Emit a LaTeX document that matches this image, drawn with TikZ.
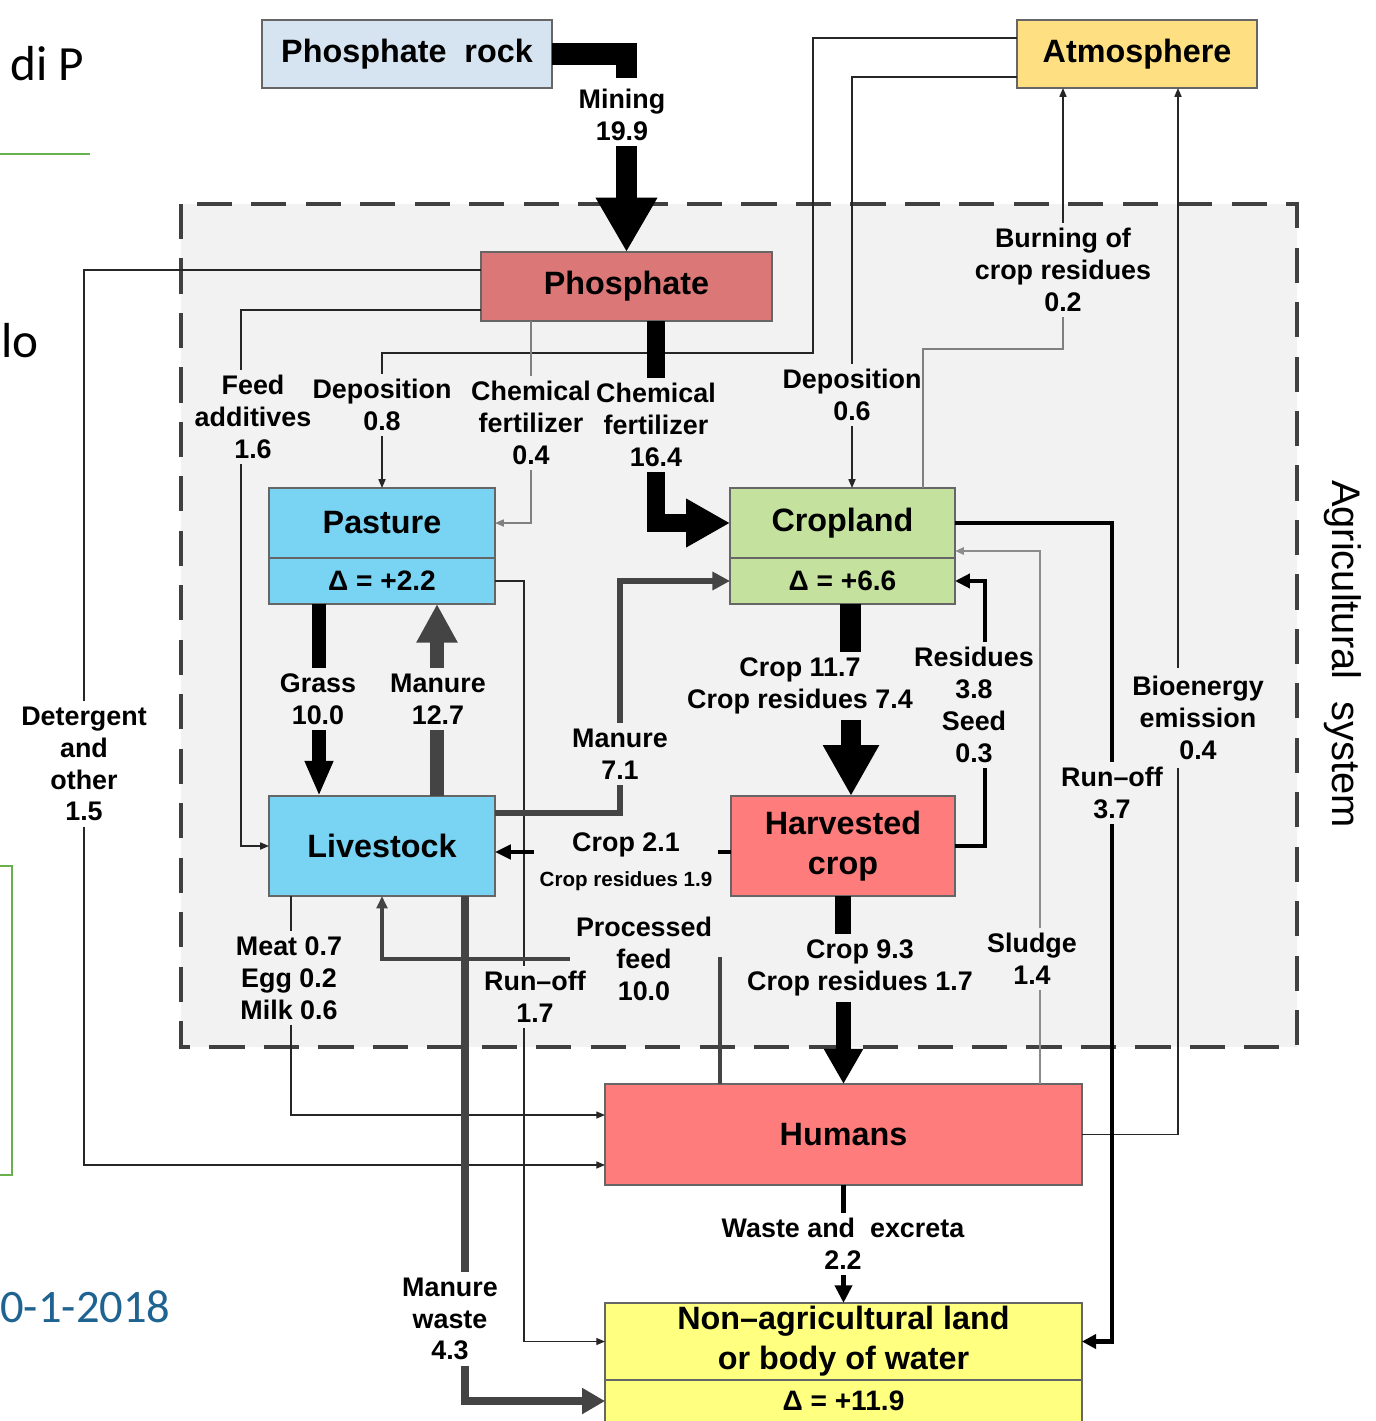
\documentclass[tikz,border=0pt]{standalone}
\usepackage{fontspec}
\setmainfont{Liberation Sans}
\newfontfamily\slidefont{Carlito}
\usetikzlibrary{arrows.meta,positioning}

\definecolor{rockblue}{RGB}{214,227,240}
\definecolor{atmoyellow}{RGB}{254,224,130}
\definecolor{phosred}{RGB}{219,119,119}
\definecolor{landblue}{RGB}{121,211,243}
\definecolor{cropgreen}{RGB}{196,225,157}
\definecolor{foodred}{RGB}{255,124,124}
\definecolor{sinkyellow}{RGB}{255,255,128}
\definecolor{agrigray}{RGB}{242,242,242}
\definecolor{flowgray}{RGB}{68,68,68}
\definecolor{datablue}{RGB}{31,99,145}
\definecolor{slidegreen}{RGB}{106,176,76}

\newcommand{\boxfont}{\fontsize{18.4}{22.7}\selectfont\bfseries}
\newcommand{\deltafont}{\fontsize{16}{19}\selectfont\bfseries}
\newcommand{\lblfont}{\fontsize{15.3}{18.1}\selectfont\bfseries}
\newcommand{\tinyfont}{\fontsize{11.7}{14}\selectfont\bfseries}

\tikzset{
  headed/.style 2 args={-{Triangle[width=#1,length=#2]}},
  bigbar/.style={line width=#1, black},
  graybar/.style={line width=#1, flowgray},
}

\begin{document}
\begin{tikzpicture}[x=0.02cm, y=-0.02cm]
  \tikzstyle{pool}=[draw=black!60, line width=0.8pt, font=\boxfont, align=center, inner sep=2pt, outer sep=0pt]
  \tikzstyle{lbl}=[font=\lblfont, align=center, inner sep=3pt]
  \tikzstyle{flowline}=[line width=0.8pt, black!85]
  \tikzstyle{grayline}=[line width=0.8pt, black!50]
  \tikzstyle{sludgeline}=[line width=1.4pt, black!45]
  \tikzstyle{feedline}=[line width=1.8pt, flowgray]
  \tikzstyle{runbar}=[line width=2.5pt, black]
  \tikzstyle{tipthin}=[-{Triangle[width=4pt,length=5pt]}]
  \tikzstyle{slidetxt}=[font=\slidefont\fontsize{28}{32}\selectfont, inner sep=0pt]

  \useasboundingbox (0,0) rectangle (1376,1421);
  \clip (0,0) rectangle (1376,1421);

  % slide remains
  \node[slidetxt, anchor=base west] (slideDiP) at (10,80) {di P};
  \node[slidetxt, anchor=base west] (slideLo) at (1,357) {lo};
  \node[slidetxt, text=datablue, anchor=base west, font=\slidefont\fontsize{26.5}{30}\selectfont] (slideDate) at (0,1322) {0-1-2018};
  \draw[slidegreen, line width=1.2pt] (0,154) -- (90,154);
  \draw[slidegreen, line width=1pt] (-10,866) rectangle (12,1175);

  % agricultural system
  \draw[fill=agrigray, draw=black!75, line width=2.8pt, dash pattern=on 20pt off 11pt] (181,204) rectangle (1297,1047);
  \node[rotate=-90, font=\fontsize{22.7}{27}\selectfont] (agri) at (1343,654) {Agricultural\ \ system};

  % pools
  \node[pool, fill=rockblue, minimum width=5.8cm, minimum height=1.36cm] (rock) at (407,54) {Phosphate\ \ rock};
  \node[pool, fill=atmoyellow, minimum width=4.8cm, minimum height=1.36cm] (atmos) at (1137,54) {Atmosphere};
  \node[pool, fill=phosred, minimum width=5.82cm, minimum height=1.38cm] (phos) at (626.5,286.5) {Phosphate};
  \node[pool, fill=landblue, minimum width=4.52cm, minimum height=1.4cm] (pasture) at (382,523) {Pasture};
  \node[pool, fill=landblue, minimum width=4.52cm, minimum height=0.92cm, font=\deltafont, below=0pt of pasture] (pastureD) {Δ = +2.2};
  \node[pool, fill=cropgreen, minimum width=4.5cm, minimum height=1.4cm] (cropland) at (842.5,523) {Cropland};
  \node[pool, fill=cropgreen, minimum width=4.5cm, minimum height=0.92cm, font=\deltafont, below=0pt of cropland] (cropD) {Δ = +6.6};
  \node[pool, fill=landblue, minimum width=4.52cm, minimum height=2cm] (livestock) at (382,846) {Livestock};
  \node[pool, fill=foodred, minimum width=4.48cm, minimum height=2cm] (harvest) at (843,846) {Harvested\\crop};
  \node[pool, fill=foodred, minimum width=9.54cm, minimum height=2.02cm] (humans) at (843.5,1134.5) {Humans};
  \node[pool, fill=sinkyellow, minimum width=9.54cm, minimum height=1.46cm] (nonag) at (843.5,1341.5) {Non–agricultural land\\or body of water};
  \node[pool, fill=sinkyellow, minimum width=9.54cm, minimum height=0.84cm, font=\deltafont, below=0pt of nonag] (nonagD) {Δ = +11.9};

  % flow labels
  \node[lbl] (lMining) at (622,115) {Mining\\19.9};
  \node[lbl] (lChemC) at (656,425) {Chemical\\fertilizer\\16.4};
  \node[lbl] (lChemP) at (531,423) {Chemical\\fertilizer\\0.4};
  \node[lbl] (lDepP) at (382,405) {Deposition\\0.8};
  \node[lbl] (lDepC) at (852,395) {Deposition\\0.6};
  \node[lbl] (lBurn) at (1063,270) {Burning of\\crop residues\\0.2};
  \node[lbl] (lFeed) at (253,417) {Feed\\additives\\1.6};
  \node[lbl] (lDet) at (84,764) {Detergent\\and\\other\\1.5};
  \node[lbl] (lGrass) at (318,699) {Grass\\10.0};
  \node[lbl] (lManP) at (438,699) {Manure\\12.7};
  \node[lbl] (lManC) at (620,754) {Manure\\7.1};
  \node[lbl] (lCropH) at (800,686) {Crop 11.7\\Crop residues 7.4};
  \node[lbl] (lRes) at (974,705) {Residues\\3.8\\Seed\\0.3};
  \node[lbl] (lRunC) at (1112,793) {Run–off\\3.7};
  \node[lbl] (lBio) at (1198,718) {Bioenergy\\emission\\0.4};
  \node[lbl] (lCropL) at (626,862) {Crop 2.1\\[2pt]{\tinyfont Crop residues 1.9}};
  \node[lbl] (lFeedP) at (644,959) {Processed\\feed\\10.0};
  \node[lbl] (lRunP) at (535,997) {Run–off\\1.7};
  \node[lbl] (lMeat) at (289,978) {Meat 0.7\\Egg 0.2\\Milk 0.6};
  \node[lbl] (lCropHu) at (860,968) {Crop 9.3\\Crop residues 1.7};
  \node[lbl] (lSludge) at (1032,959) {Sludge\\1.4};
  \node[lbl] (lWaste) at (843,1244) {Waste and\ \ excreta\\2.2};
  \node[lbl] (lManW) at (450,1319) {Manure\\waste\\4.3};

  \coordinate (depTurn) at (813,353);
  \coordinate (burnTurn) at (1063,349);
  \coordinate (bioLow) at (1178,768);
  \coordinate (bioHigh) at (1178,668);

  % thin flows
  \draw[flowline] ([yshift=0.32cm]atmos.west) -| (depTurn) -| (lDepP.north);
  \draw[flowline, tipthin] (lDepP.south) -- (pasture.north);
  \draw[flowline] ([yshift=-0.46cm]atmos.west) -| (lDepC.north);
  \draw[flowline, tipthin] (lDepC.south) -- (lDepC.south |- cropland.north);
  \draw[grayline] ([xshift=1.61cm]cropland.north) |- (burnTurn) -- (lBurn.south);
  \draw[flowline, tipthin] (lBurn.north) -- (lBurn.north |- atmos.south);
  \draw[flowline] (humans.east) -| (bioLow);
  \draw[flowline, tipthin] (bioHigh) -- (bioHigh |- atmos.south);
  \draw[grayline] (phos.south -| lChemP) -- (lChemP.north);
  \draw[grayline, tipthin] (lChemP.south) |- (pasture.east);
  \draw[flowline] ([yshift=0.33cm]phos.west) -| (lDet.north);
  \draw[flowline, tipthin] (lDet.south) |- ([yshift=-0.61cm]humans.west);
  \draw[flowline] ([yshift=-0.47cm]phos.west) -| ([xshift=-0.24cm]lFeed.north);
  \draw[flowline, tipthin] ([xshift=-0.24cm]lFeed.south) |- (livestock.west);
  \draw[flowline] (pastureD.east) -| ([xshift=-0.22cm]lRunP.north);
  \draw[flowline, tipthin] ([xshift=-0.22cm]lRunP.south) |- (nonag.west);
  \draw[flowline] ([xshift=-1.82cm]livestock.south) -- ([xshift=-1.82cm]livestock.south |- lMeat.north);
  \draw[flowline, tipthin] ([xshift=-1.82cm]livestock.south |- lMeat.south) |- ([yshift=0.39cm]humans.west);
  \draw[sludgeline] ([xshift=0.16cm]humans.north -| lSludge) -- ([xshift=0.16cm]lSludge.south);
  \draw[sludgeline, tipthin] ([xshift=0.16cm]lSludge.north) |- ([yshift=-0.56cm]cropland.east);
  \draw[feedline] ([xshift=-2.47cm]humans.north) |- (lFeedP.east);
  \draw[feedline, headed={6pt}{7pt}] (lFeedP.west) -| (livestock.south);

  % medium flows
  \draw[runbar] (cropland.east) -| (lRunC.north);
  \draw[runbar, headed={8pt}{8pt}] (lRunC.south) |- (nonag.east);
  \draw[runbar] (harvest.east) -| ([xshift=0.22cm]lRes.south);
  \draw[runbar, headed={8pt}{8.5pt}] ([xshift=0.22cm]lRes.north) |- (cropD.east);
  \draw[runbar, line width=2.8pt] ([yshift=-0.12cm]harvest.west) -- ([yshift=-0.12cm]harvest.west -| lCropL.east);
  \draw[runbar, line width=2.8pt, headed={8pt}{9pt}] ([yshift=-0.12cm]livestock.east -| lCropL.west) -- ([yshift=-0.12cm]livestock.east);
  \draw[runbar] (humans.south) -- (humans.south |- lWaste.north);
  \draw[runbar, headed={9.5pt}{10pt}] (nonag.north |- lWaste.south) -- (nonag.north);
  \draw[graybar=3.4pt] ([yshift=0.66cm]livestock.east) -| (lManC.south);
  \draw[graybar=3.4pt, headed={10pt}{10pt}] (lManC.north) |- (cropD.west);
  \draw[graybar=4.5pt] ([xshift=1.66cm]livestock.south) -- ([xshift=1.66cm]livestock.south |- lManW.north);
  \draw[graybar=4.5pt, headed={14pt}{13pt}] ([xshift=1.66cm]livestock.south |- lManW.south) |- (nonagD.west);

  % thick flows
  \draw[bigbar=12.5pt] (rock.east) -| ([yshift=3pt]lMining.north -| phos.north);
  \draw[bigbar=12.5pt, headed={33pt}{31pt}] (lMining.south -| phos.north) -- (phos.north);
  \draw[bigbar=10.5pt] (phos.south -| lChemC) -- (lChemC.north);
  \draw[bigbar=10.5pt, headed={26pt}{25pt}] (lChemC.south) |- (cropland.west);
  \draw[bigbar=11.5pt] ([xshift=0.16cm]cropD.south) -- ([xshift=0.16cm]cropD.south |- lCropH.north);
  \draw[bigbar=11.5pt, headed={30pt}{29pt}] ([xshift=0.16cm]harvest.north |- lCropH.south) -- ([xshift=0.16cm]harvest.north);
  \draw[bigbar=9pt] (harvest.south) -- (harvest.south |- lCropHu.north);
  \draw[bigbar=9pt, headed={21pt}{20pt}] (humans.north |- lCropHu.south) -- (humans.north);
  \draw[bigbar=7.7pt] ([xshift=-1.26cm]pastureD.south) -- ([xshift=-1.26cm]pastureD.south |- lGrass.north);
  \draw[bigbar=7.7pt, headed={15pt}{20pt}] ([xshift=-1.26cm]livestock.north |- lGrass.south) -- ([xshift=-1.26cm]livestock.north);
  \draw[graybar=8.5pt] ([xshift=1.1cm]livestock.north) -- ([xshift=1.1cm]livestock.north |- lManP.south);
  \draw[graybar=8.5pt, headed={22pt}{22pt}] ([xshift=1.1cm]pastureD.south |- lManP.north) -- ([xshift=1.1cm]pastureD.south);
\end{tikzpicture}
\end{document}
